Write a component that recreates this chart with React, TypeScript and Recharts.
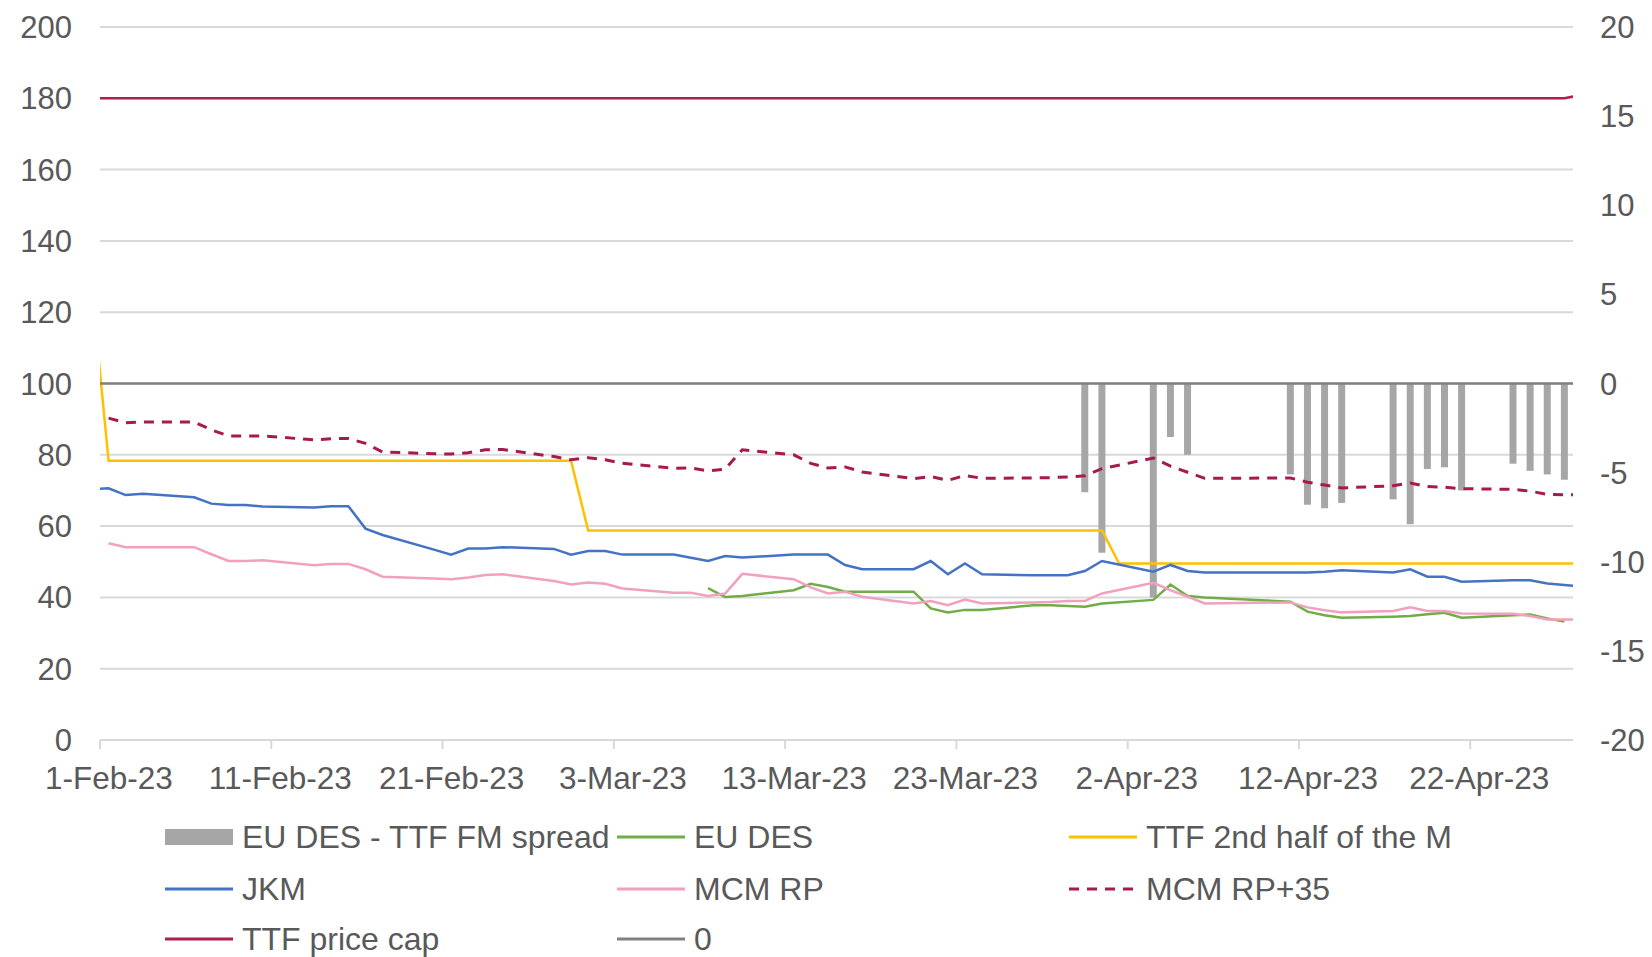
import { Bar, CartesianGrid, ComposedChart, Line, XAxis, YAxis } from "recharts";

// trading days (plus the day before/after the window, which Excel clips at the axis edge)
const dates = [
  "2023-01-31", "2023-02-01", "2023-02-02", "2023-02-03", "2023-02-06", "2023-02-07", "2023-02-08", "2023-02-09", "2023-02-10",
  "2023-02-13", "2023-02-14", "2023-02-15", "2023-02-16", "2023-02-17", "2023-02-20", "2023-02-21", "2023-02-22", "2023-02-23", "2023-02-24",
  "2023-02-27", "2023-02-28", "2023-03-01", "2023-03-02", "2023-03-03", "2023-03-06", "2023-03-07", "2023-03-08", "2023-03-09", "2023-03-10",
  "2023-03-13", "2023-03-14", "2023-03-15", "2023-03-16", "2023-03-17", "2023-03-20", "2023-03-21", "2023-03-22", "2023-03-23", "2023-03-24",
  "2023-03-27", "2023-03-28", "2023-03-29", "2023-03-30", "2023-03-31", "2023-04-01", "2023-04-03", "2023-04-04", "2023-04-05", "2023-04-06",
  "2023-04-11", "2023-04-12", "2023-04-13", "2023-04-14", "2023-04-17", "2023-04-18", "2023-04-19", "2023-04-20", "2023-04-21",
  "2023-04-24", "2023-04-25", "2023-04-26", "2023-04-27", "2023-04-28",
];

const spread = [
  null, null, null, null, null, null, null, null, null,
  null, null, null, null, null, null, null, null, null, null,
  null, null, null, null, null, null, null, null, null, null,
  null, null, null, null, null, null, null, null, null, null,
  null, null, null, -6.1, -9.5, null, -12.0, -3.0, -4.0, null,
  -5.1, -6.8, -7.0, -6.7, -6.5, -7.9, -4.8, -4.7, -6.0,
  -4.5, -4.9, -5.1, -5.4, null,
];

const euDes = [
  null, null, null, null, null, null, null, null, null,
  null, null, null, null, null, null, null, null, null, null,
  null, null, null, null, null, null, null, 42.6, 40.1, 40.4,
  42.0, 43.8, 42.9, 41.6, 41.6, 41.6, 36.9, 35.8, 36.5, 36.5,
  37.8, 37.8, 37.6, 37.4, 38.3, null, 39.3, 43.6, 40.4, 40.0,
  38.8, 36.0, 35.0, 34.3, 34.6, 34.8, 35.3, 35.7, 34.3,
  35.0, 35.2, 34.1, 33.2, null,
];

const ttf2ndHalf = [
  128, 78.3, 78.3, 78.3, 78.3, 78.3, 78.3, 78.3, 78.3,
  78.3, 78.3, 78.3, 78.3, 78.3, 78.3, 78.3, 78.3, 78.3, 78.3,
  78.3, 78.3, 58.8, 58.8, 58.8, 58.8, 58.8, 58.8, 58.8, 58.8,
  58.8, 58.8, 58.8, 58.8, 58.8, 58.8, 58.8, 58.8, 58.8, 58.8,
  58.8, 58.8, 58.8, 58.8, 58.8, 49.5, 49.5, 49.5, 49.5, 49.5,
  49.5, 49.5, 49.5, 49.5, 49.5, 49.5, 49.5, 49.5, 49.5,
  49.5, 49.5, 49.5, 49.5, 49.5,
];

const jkm = [
  70.3, 70.6, 68.7, 69.1, 68.1, 66.3, 65.9, 65.9, 65.5,
  65.2, 65.6, 65.6, 59.3, 57.5, 53.4, 52.0, 53.7, 53.7, 54.1,
  53.6, 52.0, 53.0, 53.0, 52.0, 52.0, 51.1, 50.2, 51.6, 51.2,
  52.0, 52.0, 52.0, 49.1, 47.9, 47.9, 50.2, 46.5, 49.5, 46.5,
  46.2, 46.2, 46.2, 47.4, 50.2, null, 47.2, 49.1, 47.4, 47.0,
  47.0, 47.0, 47.2, 47.6, 47.0, 47.9, 45.8, 45.8, 44.4,
  44.8, 44.8, 43.9, 43.5, 43.1,
];

const mcmRp = [
  null, 55.2, 54.1, 54.1, 54.1, 52.1, 50.2, 50.2, 50.4,
  49.0, 49.4, 49.4, 47.9, 45.8, 45.3, 45.1, 45.6, 46.3, 46.5,
  44.6, 43.6, 44.2, 43.8, 42.5, 41.3, 41.3, 40.4, 41.1, 46.6,
  45.1, 42.8, 41.1, 41.6, 40.2, 38.3, 39.0, 37.8, 39.4, 38.3,
  38.6, 38.7, 39.0, 39.0, 41.1, null, 44.1, 42.0, 40.2, 38.3,
  38.6, 37.2, 36.4, 35.8, 36.2, 37.2, 36.2, 36.2, 35.5,
  35.4, 34.8, 33.8, 33.8, 33.8,
];

const mcmRp35 = [
  null, 90.3, 89.0, 89.2, 89.2, 87.0, 85.3, 85.3, 85.3,
  84.2, 84.5, 84.6, 83.2, 80.8, 80.3, 80.2, 80.6, 81.4, 81.5,
  79.5, 78.6, 79.2, 78.6, 77.6, 76.2, 76.3, 75.5, 76.0, 81.4,
  80.0, 77.6, 76.3, 76.6, 75.2, 73.3, 73.9, 72.8, 74.2, 73.4,
  73.5, 73.6, 73.8, 74.1, 76.1, null, 79.1, 76.8, 75.1, 73.4,
  73.5, 72.3, 71.5, 70.7, 71.3, 72.1, 71.1, 70.9, 70.5,
  70.3, 69.8, 68.9, 68.8, 68.8,
];

const priceCap = [
  180, 180, 180, 180, 180, 180, 180, 180, 180,
  180, 180, 180, 180, 180, 180, 180, 180, 180, 180,
  180, 180, 180, 180, 180, 180, 180, 180, 180, 180,
  180, 180, 180, 180, 180, 180, 180, 180, 180, 180,
  180, 180, 180, 180, 180, 180, 180, 180, 180, 180,
  180, 180, 180, 180, 180, 180, 180, 180, 180,
  180, 180, 180, 180, 181,
];

const zero = [
  0, 0, 0, 0, 0, 0, 0, 0, 0,
  0, 0, 0, 0, 0, 0, 0, 0, 0, 0,
  0, 0, 0, 0, 0, 0, 0, 0, 0, 0,
  0, 0, 0, 0, 0, 0, 0, 0, 0, 0,
  0, 0, 0, 0, 0, 0, 0, 0, 0, 0,
  0, 0, 0, 0, 0, 0, 0, 0, 0,
  0, 0, 0, 0, 0,
];

const tickDays = [0, 10, 20, 30, 40, 50, 60, 70, 80];
const tickLabels = ["1-Feb-23", "11-Feb-23", "21-Feb-23", "3-Mar-23", "13-Mar-23", "23-Mar-23", "2-Apr-23", "12-Apr-23", "22-Apr-23"];
const leftTicks = [0, 20, 40, 60, 80, 100, 120, 140, 160, 180, 200];
const rightTicks = [-20, -15, -10, -5, 0, 5, 10, 15, 20];

const start = Date.parse("2023-02-01");
const data = dates.map((d, i) => ({
  // Excel date axis puts each day in the middle of its slot
  x: (Date.parse(d) - start) / 86400000 + 0.5,
  spread: spread[i],
  euDes: euDes[i],
  ttf2ndHalf: ttf2ndHalf[i],
  jkm: jkm[i],
  mcmRp: mcmRp[i],
  mcmRp35: mcmRp35[i],
  priceCap: priceCap[i],
  zero: zero[i],
}));

const FONT = "'Liberation Sans', Arial, sans-serif";
const TEXT = "#595959";

const DateTick = ({ x, y, payload }: any) => (
  <text x={x + 9} y={y} dy="0.71em" textAnchor="middle" fill={TEXT} fontSize={31.5} fontFamily={FONT}>
    {tickLabels[tickDays.indexOf(payload.value)]}
  </text>
);

const legendItems = [
  { label: "EU DES - TTF FM spread", kind: "bar", color: "#A6A6A6", col: 0, row: 0 },
  { label: "EU DES", kind: "line", color: "#70AD47", col: 1, row: 0 },
  { label: "TTF 2nd half of the M", kind: "line", color: "#FFC000", col: 2, row: 0 },
  { label: "JKM", kind: "line", color: "#4472C4", col: 0, row: 1 },
  { label: "MCM RP", kind: "line", color: "#F2A0BF", col: 1, row: 1 },
  { label: "MCM RP+35", kind: "dash", color: "#A8194D", col: 2, row: 1 },
  { label: "TTF price cap", kind: "line", color: "#AE1E50", col: 0, row: 2 },
  { label: "0", kind: "line", color: "#808080", col: 1, row: 2 },
];
const colX = [165, 617, 1069];
const rowY = [837, 889, 939];

function Legend() {
  return (
    <>
      {legendItems.map((it) => (
        <div
          key={it.label}
          style={{
            position: "absolute",
            left: colX[it.col],
            top: rowY[it.row] - 17,
            height: 34,
            display: "flex",
            alignItems: "center",
            fontFamily: FONT,
            fontSize: 32,
            color: TEXT,
            whiteSpace: "nowrap",
          }}
        >
          <svg width={68} height={34} style={{ marginRight: 9 }}>
            {it.kind === "bar" && <rect x={0} y={9} width={68} height={16} fill={it.color} />}
            {it.kind === "line" && <line x1={0} x2={68} y1={17} y2={17} stroke={it.color} strokeWidth={3} />}
            {it.kind === "dash" && (
              <line x1={0} x2={68} y1={17} y2={17} stroke={it.color} strokeWidth={3} strokeDasharray="10 8" />
            )}
          </svg>
          <span style={{ lineHeight: "34px" }}>{it.label}</span>
        </div>
      ))}
    </>
  );
}

export default function App() {
  return (
    <div style={{ position: "absolute", left: 0, top: 0, width: 1652, height: 957, background: "#fff", overflow: "hidden" }}>
      <ComposedChart width={1652} height={957} data={data} margin={{ top: 27, right: 0, bottom: 170, left: 0 }}>
        <CartesianGrid yAxisId="left" vertical={false} stroke="#D9D9D9" strokeWidth={2} />
        <XAxis
          dataKey="x"
          type="number"
          domain={[0, 86]}
          allowDataOverflow
          ticks={tickDays}
          interval={0}
          height={47}
          axisLine={{ stroke: "#D9D9D9", strokeWidth: 2 }}
          tickLine={{ stroke: "#D9D9D9", strokeWidth: 2 }}
          tickSize={9}
          tickMargin={18}
          tick={<DateTick />}
        />
        <YAxis
          yAxisId="left"
          domain={[0, 200]}
          ticks={leftTicks}
          interval={0}
          width={100}
          axisLine={false}
          tickLine={false}
          tickSize={0}
          tickMargin={28}
          tick={{ fill: TEXT, fontSize: 31, fontFamily: FONT }}
        />
        <YAxis
          yAxisId="right"
          orientation="right"
          domain={[-20, 20]}
          ticks={rightTicks}
          interval={0}
          width={79}
          axisLine={false}
          tickLine={false}
          tickSize={0}
          tickMargin={27}
          tick={{ fill: TEXT, fontSize: 31, fontFamily: FONT, textAnchor: "start" }}
        />
        <Bar yAxisId="right" dataKey="spread" fill="#A6A6A6" barSize={7} isAnimationActive={false} />
        <Line yAxisId="left" dataKey="euDes" stroke="#70AD47" strokeWidth={2.5} dot={false} connectNulls isAnimationActive={false} />
        <Line yAxisId="left" dataKey="ttf2ndHalf" stroke="#FFC000" strokeWidth={2.5} dot={false} connectNulls isAnimationActive={false} />
        <Line yAxisId="left" dataKey="jkm" stroke="#4472C4" strokeWidth={2.5} dot={false} connectNulls isAnimationActive={false} />
        <Line yAxisId="left" dataKey="mcmRp" stroke="#F2A0BF" strokeWidth={2.5} dot={false} connectNulls isAnimationActive={false} />
        <Line
          yAxisId="left"
          dataKey="mcmRp35"
          stroke="#A8194D"
          strokeWidth={3}
          strokeDasharray="10 8"
          dot={false}
          connectNulls
          isAnimationActive={false}
        />
        <Line yAxisId="left" dataKey="priceCap" stroke="#AE1E50" strokeWidth={2.5} dot={false} connectNulls isAnimationActive={false} />
        <Line yAxisId="right" dataKey="zero" stroke="#808080" strokeWidth={2.5} dot={false} connectNulls isAnimationActive={false} />
      </ComposedChart>
      <Legend />
    </div>
  );
}
